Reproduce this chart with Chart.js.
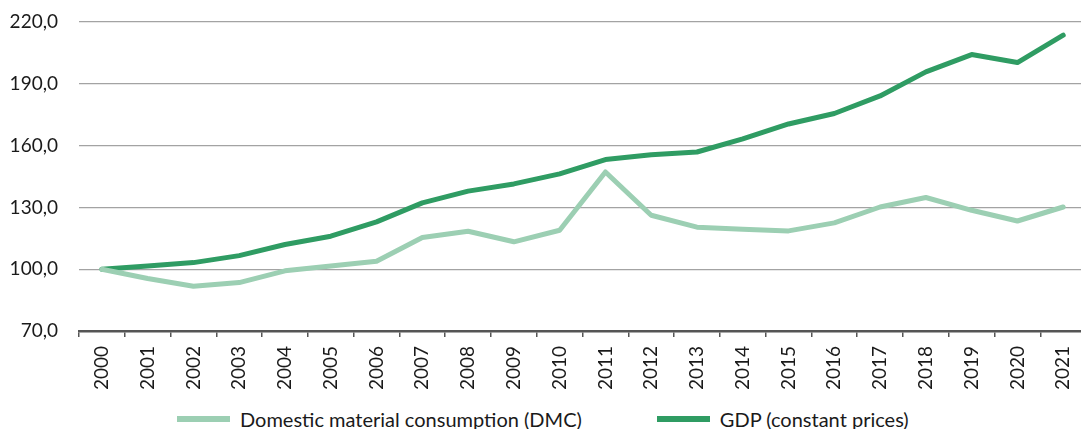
<!DOCTYPE html>
<html>
<head>
<meta charset="utf-8">
<script src="https://cdn.jsdelivr.net/npm/chart.js@4.4.1/dist/chart.umd.min.js"></script>
<style>
  html, body { margin: 0; padding: 0; background: #fff; overflow: hidden; }
  .wrap { position: relative; width: 1095px; height: 400px; }
  .legend {
    display: flex; justify-content: flex-start; align-items: center;
    font-family: Lato, sans-serif; font-size: 20px; color: #1a1a1a;
    position: absolute; top: 407px; left: 177px; white-space: nowrap;
  }
  .legend-item { display: flex; align-items: center; margin-right: 75px; }
  .legend-box { width: 53px; height: 6px; margin-right: 10px; }
</style>
</head>
<body>
<div class="wrap"><canvas id="chart"></canvas></div>
<div class="legend" id="legend"></div>
<script>
const years = ['2000', '2001', '2002', '2003', '2004', '2005', '2006', '2007', '2008', '2009', '2010',
  '2011', '2012', '2013', '2014', '2015', '2016', '2017', '2018', '2019', '2020', '2021'];

const dmc = [100.0, 95.5, 91.7, 93.5, 99.2, 101.5, 103.9, 115.4, 118.4, 113.3, 118.9,
  147.2, 126.2, 120.4, 119.4, 118.6, 122.5, 130.2, 134.8, 128.6, 123.4, 130.2];

const gdp = [100.0, 101.6, 103.2, 106.6, 112.0, 116.0, 123.0, 132.2, 137.9, 141.4, 146.3,
  153.2, 155.6, 156.9, 163.3, 170.5, 175.6, 184.1, 195.8, 204.2, 200.3, 213.6];

const yTicks = [70, 100, 130, 160, 190, 220];

const seriesNames = ['Domestic material consumption (DMC)', 'GDP (constant prices)'];
const seriesColors = ['#9ccfb3', '#2f9c63'];

const font = 'Lato, sans-serif';

const ctx = document.getElementById('chart').getContext('2d');

const chart = new Chart(ctx, {
  type: 'line',
  data: {
    labels: years,
    datasets: [
      {
        label: seriesNames[0],
        data: dmc,
        borderColor: seriesColors[0],
        backgroundColor: seriesColors[0],
        borderWidth: 5,
        pointRadius: 0,
        tension: 0,
        borderCapStyle: 'round',
        borderJoinStyle: 'round',
      },
      {
        label: seriesNames[1],
        data: gdp,
        borderColor: seriesColors[1],
        backgroundColor: seriesColors[1],
        borderWidth: 5,
        pointRadius: 0,
        tension: 0,
        borderCapStyle: 'round',
        borderJoinStyle: 'round',
      },
    ],
  },
  options: {
    responsive: true,
    maintainAspectRatio: false,
    animation: false,
    layout: { padding: { top: 22, right: 0, bottom: 0, left: 0 } },
    plugins: {
      legend: { display: false },
      tooltip: { enabled: false },
    },
    scales: {
      x: {
        offset: true,
        grid: {
          offset: true,
          drawOnChartArea: false,
          drawTicks: true,
          tickLength: 6,
          color: '#555',
          lineWidth: 1.5,
        },
        border: { display: true, color: '#555', width: 2.5 },
        ticks: {
          minRotation: 90,
          maxRotation: 90,
          autoSkip: false,
          padding: 9,
          color: '#1a1a1a',
          font: { family: font, size: 19 },
        },
        afterFit: (scale) => { scale.height = 69; },
      },
      y: {
        min: 70,
        max: 220,
        afterBuildTicks: (scale) => { scale.ticks = yTicks.map((v) => ({ value: v })); },
        // invisible tick marks give the gap between labels and plot
        grid: { color: '#a3a3a3', lineWidth: 1.2, drawTicks: true, tickLength: 21, tickColor: 'transparent' },
        border: { display: false },
        ticks: {
          padding: 0,
          color: '#1a1a1a',
          font: { family: font, size: 19 },
          callback: (value) => value.toFixed(1).replace('.', ','),
        },
        afterFit: (scale) => { scale.width = 79; },
      },
    },
  },
});

// html legend under the chart
const legend = document.getElementById('legend');
seriesNames.forEach((name, i) => {
  const item = document.createElement('div');
  item.className = 'legend-item';
  const box = document.createElement('span');
  box.className = 'legend-box';
  box.style.background = seriesColors[i];
  const text = document.createElement('span');
  text.textContent = name;
  item.appendChild(box);
  item.appendChild(text);
  legend.appendChild(item);
});
</script>
</body>
</html>
